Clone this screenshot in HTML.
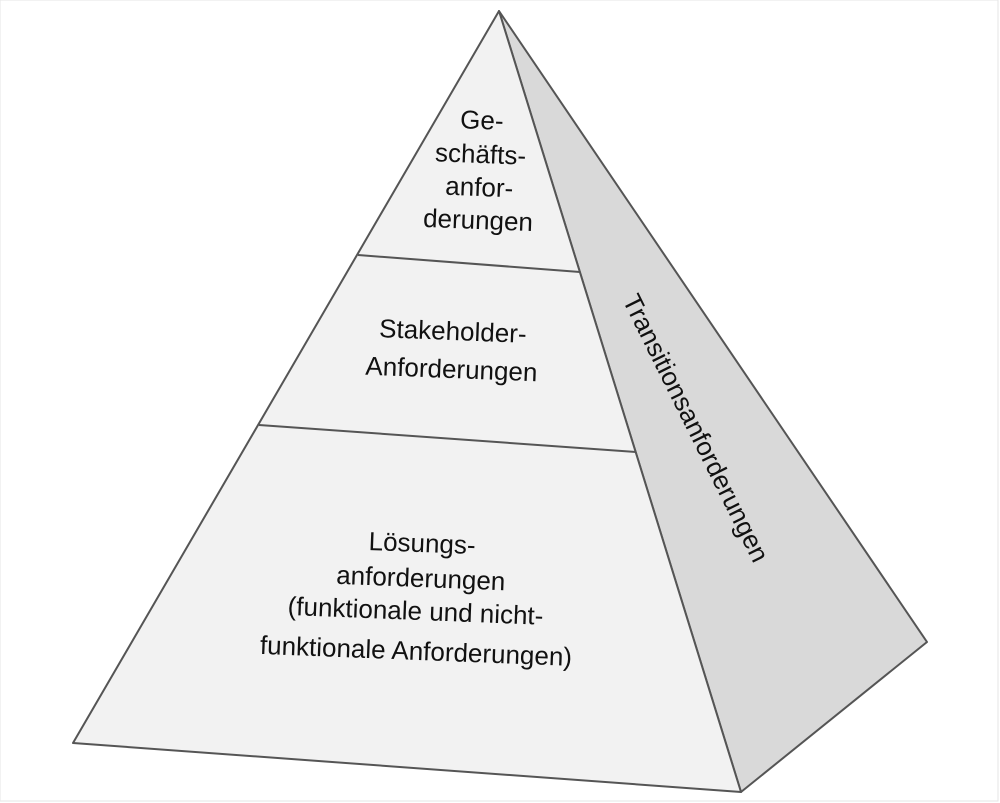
<!DOCTYPE html>
<html><head><style>
body{margin:0;background:#fff;}
svg{display:block}
text{font-family:"Liberation Sans",Arial,sans-serif;font-size:26px;fill:#111;text-anchor:middle}
</style></head><body>
<svg width="1000" height="803" viewBox="0 0 1000 803">
<rect x="0" y="0" width="998" height="801" fill="#fff" stroke="#e6e6e6" stroke-width="1"/>
<polygon points="499,11 741,792 927,642" fill="#d9d9d9" stroke="#555" stroke-width="2" stroke-linejoin="round"/>
<polygon points="499,11 73,743 741,792" fill="#f2f2f2" stroke="#555" stroke-width="2" stroke-linejoin="round"/>
<line x1="358" y1="255" x2="580" y2="272" stroke="#555" stroke-width="2"/>
<line x1="259" y1="425" x2="636" y2="452" stroke="#555" stroke-width="2"/>
<g transform="rotate(2.2 480 170)">
<text x="480" y="129">Ge-</text>
<text x="480" y="163">schäfts-</text>
<text x="480" y="196">anfor-</text>
<text x="480" y="229">derungen</text>
</g>
<g transform="rotate(2.2 452 355)">
<text x="452" y="340">Stakeholder-</text>
<text x="452" y="378">Anforderungen</text>
</g>
<g transform="rotate(2.2 420 600)">
<text x="420" y="552">Lösungs-</text>
<text x="420" y="587">anforderungen</text>
<text x="416" y="620">(funktionale und nicht-</text>
<text x="418" y="660">funktionale Anforderungen)</text>
</g>
<text transform="translate(688,432) rotate(63.5)">Transitionsanforderungen</text>
</svg>
</body></html>
